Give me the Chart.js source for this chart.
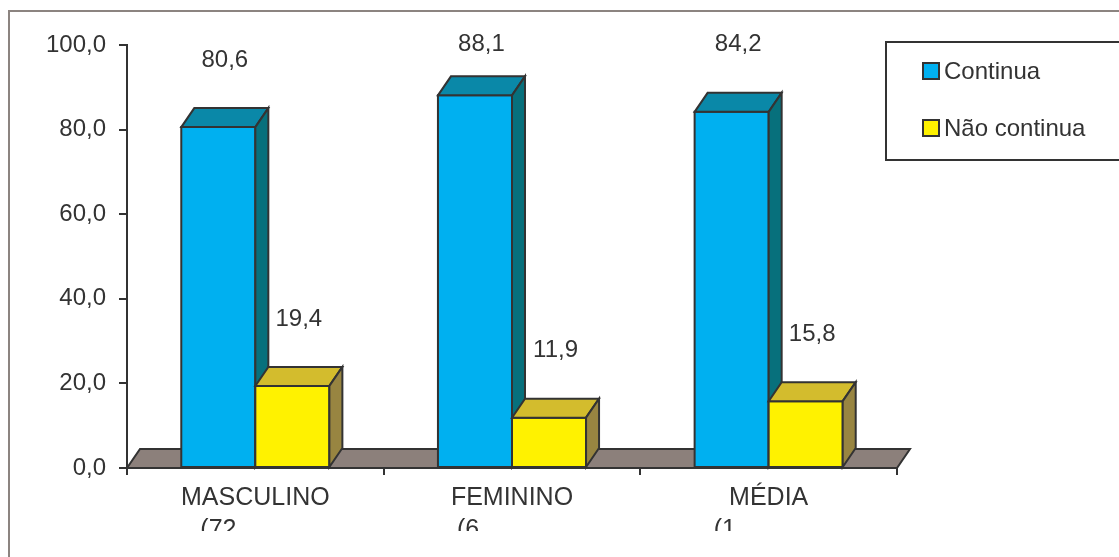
<!DOCTYPE html>
<html>
<head>
<meta charset="utf-8">
<script src="https://cdn.jsdelivr.net/npm/chart.js@4"></script>
<style>
html,body{margin:0;padding:0;background:#fff;}
canvas{display:block;}
</style>
</head>
<body>
<canvas id="c" width="1119" height="557"></canvas>
<script>
const categories = ['MASCULINO', 'FEMININO', 'MÉDIA'];
const subLabels = ['(72', '(6', '(1'];
const seriesNames = ['Continua', 'Não continua'];
const continua = [80.6, 88.1, 84.2];
const naoContinua = [19.4, 11.9, 15.8];
const yTickValues = [0, 20, 40, 60, 80, 100];

const FONT = "'Liberation Sans', Arial, sans-serif";
const INK = '#333333';
const DEPTH_X = 13, DEPTH_Y = -19;
const faces = [
  {front: '#00B0F0', top: '#0A88A8', side: '#07707C'},
  {front: '#FFF200', top: '#D3BC2D', side: '#988541'}
];
const fmt = v => v.toFixed(1).replace('.', ',');

function poly(ctx, pts, fill) {
  ctx.beginPath();
  ctx.moveTo(pts[0][0], pts[0][1]);
  for (let i = 1; i < pts.length; i++) ctx.lineTo(pts[i][0], pts[i][1]);
  ctx.closePath();
  ctx.fillStyle = fill;
  ctx.fill();
  ctx.lineWidth = 2;
  ctx.strokeStyle = INK;
  ctx.stroke();
}

const bar3d = {
  id: 'bar3d',
  beforeDraw(chart) {
    const ctx = chart.ctx;
    ctx.save();
    ctx.fillStyle = '#fff';
    ctx.fillRect(0, 0, chart.width, chart.height);
    ctx.strokeStyle = '#8C8480';
    ctx.lineWidth = 2;
    ctx.strokeRect(9, 11, chart.width + 20, chart.height + 20);
    ctx.restore();
  },
  beforeDatasetsDraw(chart) {
    const ctx = chart.ctx, a = chart.chartArea;
    const base = chart.scales.y.getPixelForValue(0);
    ctx.save();
    poly(ctx, [[a.left, base], [a.right, base], [a.right + DEPTH_X, base + DEPTH_Y], [a.left + DEPTH_X, base + DEPTH_Y]], '#8C807B');
    ctx.restore();
  },
  beforeDatasetDraw() { return false; },
  afterDatasetsDraw(chart) {
    const ctx = chart.ctx;
    ctx.save();
    ctx.lineJoin = 'miter';
    for (let i = 0; i < categories.length; i++) {
      chart.data.datasets.forEach((ds, d) => {
        const el = chart.getDatasetMeta(d).data[i];
        const xl = el.x - el.width / 2, xr = el.x + el.width / 2;
        const y = el.y, b = el.base;
        const f = faces[d];
        poly(ctx, [[xl, y], [xr, y], [xr, b], [xl, b]], f.front);
        poly(ctx, [[xl, y], [xr, y], [xr + DEPTH_X, y + DEPTH_Y], [xl + DEPTH_X, y + DEPTH_Y]], f.top);
        poly(ctx, [[xr, y], [xr + DEPTH_X, y + DEPTH_Y], [xr + DEPTH_X, b + DEPTH_Y], [xr, b]], f.side);
      });
    }
    // value labels
    ctx.font = '24px ' + FONT;
    ctx.fillStyle = INK;
    ctx.textAlign = 'center';
    ctx.textBaseline = 'middle';
    chart.data.datasets.forEach((ds, d) => {
      chart.getDatasetMeta(d).data.forEach((el, i) => {
        const ly = Math.max(el.y + DEPTH_Y - 48, chart.chartArea.top - 1);
        ctx.fillText(fmt(ds.data[i]), el.x + DEPTH_X / 2, ly);
      });
    });
    ctx.restore();
  },
  afterDraw(chart) {
    const ctx = chart.ctx, xs = chart.scales.x;
    ctx.save();
    // category labels
    ctx.font = '25px ' + FONT;
    ctx.fillStyle = INK;
    ctx.textBaseline = 'alphabetic';
    categories.forEach((c, i) => {
      const cx = xs.getPixelForValue(i);
      ctx.textAlign = 'center';
      ctx.fillText(c, cx, 505);
    });
    ctx.save();
    ctx.beginPath();
    ctx.rect(0, 0, chart.width, 531);
    ctx.clip();
    subLabels.forEach((s, i) => {
      const cx = xs.getPixelForValue(i);
      ctx.textAlign = 'left';
      ctx.fillText(s, cx - 55, 537);
    });
    ctx.restore();
    // legend
    ctx.font = '24px ' + FONT;
    ctx.lineWidth = 2;
    ctx.strokeStyle = INK;
    ctx.strokeRect(886, 42, 260, 118);
    ctx.textAlign = 'left';
    ctx.textBaseline = 'middle';
    seriesNames.forEach((n, k) => {
      const cy = 71 + k * 57;
      ctx.fillStyle = faces[k].front;
      ctx.fillRect(923, cy - 8, 16, 16);
      ctx.strokeRect(923, cy - 8, 16, 16);
      ctx.fillStyle = INK;
      ctx.fillText(n, 944, cy + 1);
    });
    ctx.restore();
  }
};

new Chart(document.getElementById('c'), {
  type: 'bar',
  data: {
    labels: categories,
    datasets: [
      {label: seriesNames[0], data: continua, backgroundColor: faces[0].front},
      {label: seriesNames[1], data: naoContinua, backgroundColor: faces[1].front}
    ]
  },
  options: {
    responsive: false,
    animation: false,
    devicePixelRatio: 1,
    categoryPercentage: 0.577,
    barPercentage: 1,
    layout: {padding: {top: 45, right: 222, left: 0, bottom: 0}},
    plugins: {legend: {display: false}, tooltip: {enabled: false}},
    scales: {
      x: {
        grid: {offset: true, drawOnChartArea: false, drawTicks: true, tickLength: 7, color: INK, lineWidth: 2},
        border: {display: true, color: INK, width: 2},
        ticks: {display: false},
        afterFit: s => { s.height = 89; }
      },
      y: {
        min: 0, max: 100,
        afterBuildTicks: s => { s.ticks = yTickValues.map(v => ({value: v})); },
        ticks: {
          callback: v => fmt(v),
          font: {family: FONT, size: 24},
          color: INK,
          padding: 13
        },
        grid: {drawOnChartArea: false, tickLength: 8, color: INK, lineWidth: 2},
        border: {display: true, color: INK, width: 2},
        afterFit: s => { s.width = 127; }
      }
    }
  },
  plugins: [bar3d]
});
</script>
</body>
</html>
